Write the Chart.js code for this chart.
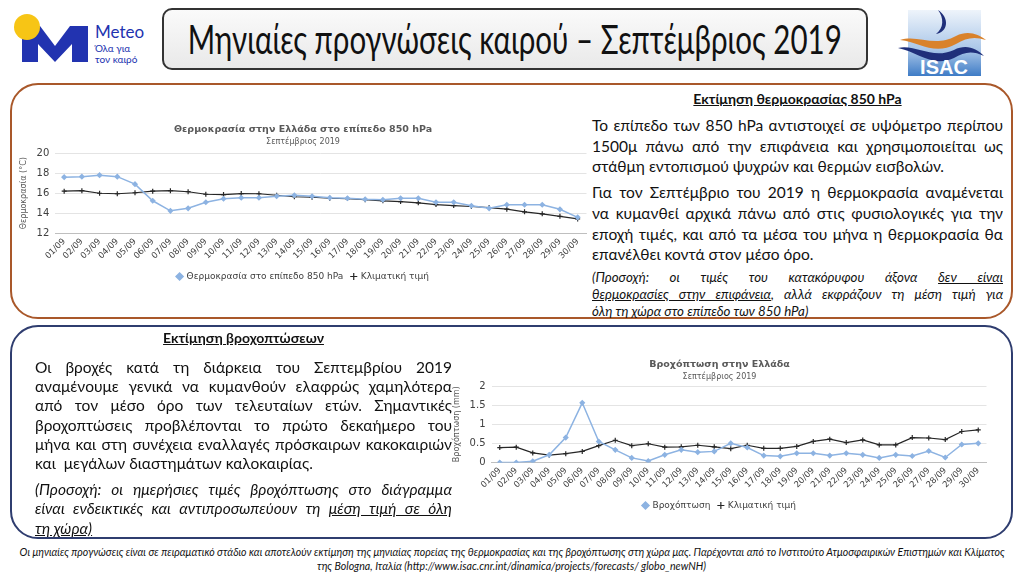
<!DOCTYPE html>
<html>
<head>
<meta charset="utf-8">
<script src="https://cdn.jsdelivr.net/npm/chart.js@4.4.1/dist/chart.umd.min.js"></script>
<style>
  body { margin: 0; width: 1024px; height: 576px; background: #fff; position: relative; overflow: hidden; font-family: Lato, "Open Sans", sans-serif; }
  .abs { position: absolute; }
  .panel { position: absolute; border-radius: 28px; box-sizing: border-box; }
  .txt { position: absolute; color: #111; }
  .txt div { white-space: nowrap; }
  .j { text-align: justify; text-align-last: justify; }
  .head { font-weight: bold; text-decoration: underline; text-align: center; }
  .it { font-style: italic; }
  .fit { display: inline-block; white-space: nowrap; transform-origin: center center; }
</style>
</head>
<body>

<!-- Meteo logo -->
<svg class="abs" style="left:10px;top:10px" width="150" height="62">
  <polygon points="12,16 30,16 45,36 60,16 78,16 78,52 62,52 62,34 45,52 28,34 28,52 12,52" fill="#2233b0"/>
  <circle cx="17" cy="17" r="13" fill="#f7c515"/>
  <text x="85" y="28" font-family="Lato, Open Sans" font-size="17" fill="#2233b0">Meteo</text>
  <text x="85" y="42" font-family="Lato, Open Sans" font-size="10" fill="#2233b0">Όλα για</text>
  <text x="85" y="53" font-family="Lato, Open Sans" font-size="10" fill="#2233b0">τον καιρό</text>
</svg>

<!-- title box -->
<div class="abs" style="left:162px;top:8px;width:706px;height:62px;box-sizing:border-box;border:2px solid #333;border-radius:10px;background:linear-gradient(#fafafa,#e9e9e9);display:flex;align-items:center;justify-content:center;overflow:hidden;">
  <span class="fit" data-w="654" style="font-family:Lato,sans-serif;font-weight:400;font-size:40px;line-height:44px;color:#111;">Μηνιαίες προγνώσεις καιρού – Σεπτέμβριος 2019</span>
</div>

<!-- ISAC logo -->
<svg class="abs" style="left:898px;top:4px" width="90" height="74">
  <defs>
    <linearGradient id="g" x1="0" y1="0" x2="0" y2="1">
      <stop offset="0" stop-color="#eef4fb"/>
      <stop offset="0.6" stop-color="#a9c6e8"/>
      <stop offset="1" stop-color="#3f7cc6"/>
    </linearGradient>
  </defs>
  <rect x="10" y="6" width="73" height="66" fill="url(#g)"/>
  <path d="M40 6 C52 14 50 28 38 30 C46 24 46 14 40 6 Z" fill="#1f2f7a"/>
  <path d="M2 36 C20 30 36 44 58 32 C70 26 80 30 88 36 C76 32 68 34 58 40 C36 52 22 38 2 36 Z" fill="#d9822b"/>
  <path d="M0 44 C18 40 34 56 56 46 C68 40 78 44 86 52 C74 46 66 48 56 54 C34 64 20 48 0 44 Z" fill="#1f2f7a"/>
  <text x="46" y="70" text-anchor="middle" font-family="Liberation Sans, sans-serif" font-weight="bold" font-size="20" fill="#fff">ISAC</text>
</svg>

<!-- panels -->
<div class="panel" style="left:10px;top:83px;width:1003px;height:236px;border:2px solid #a9582a;background:#fff;"></div>
<div class="panel" style="left:10px;top:325px;width:1003px;height:214px;border:2px solid #2f3d6f;background:#fff;"></div>

<!-- charts -->
<div class="abs" style="left:15px;top:120px;width:577px;height:171px;"><canvas id="tempChart"></canvas></div>
<div class="abs" style="left:448px;top:355px;width:544px;height:165px;"><canvas id="rainChart"></canvas></div>

<!-- top right text -->
<div class="txt" style="left:592px;top:89px;width:411px;font-size:15.5px;line-height:20.7px;">
  <div class="head" style="font-size:14px;line-height:20px;margin-bottom:6px;">Εκτίμηση θερμοκρασίας 850 hPa</div>
  <div class="j">Το επίπεδο των 850 hPa αντιστοιχεί σε υψόμετρο περίπου</div>
  <div class="j">1500μ πάνω από την επιφάνεια και χρησιμοποιείται ως</div>
  <div>στάθμη εντοπισμού ψυχρών και θερμών εισβολών.</div>
  <div style="height:5px"></div>
  <div class="j">Για τον Σεπτέμβριο του 2019 η θερμοκρασία αναμένεται</div>
  <div class="j">να κυμανθεί αρχικά πάνω από στις φυσιολογικές για την</div>
  <div class="j">εποχή τιμές, και από τα μέσα του μήνα η θερμοκρασία θα</div>
  <div>επανέλθει κοντά στον μέσο όρο.</div>
  <div class="it" style="font-size:13.3px;line-height:17px;margin-top:4px;">
    <div class="j">(Προσοχή: οι τιμές του κατακόρυφου άξονα <u>δεν είναι</u></div>
    <div class="j"><u>θερμοκρασίες στην επιφάνεια</u>, αλλά εκφράζουν τη μέση τιμή για</div>
    <div>όλη τη χώρα στο επίπεδο των 850 hPa)</div>
  </div>
</div>

<!-- bottom left text -->
<div class="txt" style="left:35px;top:328px;width:417px;font-size:15.5px;line-height:19.2px;">
  <div class="head" style="font-size:14px;line-height:20px;margin-bottom:10px;">Εκτίμηση βροχοπτώσεων</div>
  <div class="j">Οι βροχές κατά τη διάρκεια του Σεπτεμβρίου 2019</div>
  <div class="j">αναμένουμε γενικά να κυμανθούν ελαφρώς χαμηλότερα</div>
  <div class="j">από τον μέσο όρο των τελευταίων ετών. Σημαντικές</div>
  <div class="j">βροχοπτώσεις προβλέπονται το πρώτο δεκαήμερο του</div>
  <div class="j">μήνα και στη συνέχεια εναλλαγές πρόσκαιρων κακοκαιριών</div>
  <div>και &nbsp;μεγάλων διαστημάτων καλοκαιρίας.</div>
  <div class="it" style="margin-top:7px;">
    <div class="j">(Προσοχή: οι ημερήσιες τιμές βροχόπτωσης στο διάγραμμα</div>
    <div class="j">είναι ενδεικτικές και αντιπροσωπεύουν τη <u>μέση τιμή σε όλη</u></div>
    <div><u>τη χώρα)</u></div>
  </div>
</div>

<!-- footer -->
<div class="abs" style="left:0;top:545px;width:1024px;text-align:center;font-style:italic;font-size:10.5px;line-height:14px;color:#111;">
  <div><span class="fit" data-w="985">Οι μηνιαίες προγνώσεις είναι σε πειραματικό στάδιο και αποτελούν εκτίμηση της μηνιαίας πορείας της θερμοκρασίας και της βροχόπτωσης στη χώρα μας. Παρέχονται από το Ινστιτούτο Ατμοσφαιρικών Επιστημών και Κλίματος</span></div>
  <div><span class="fit" data-w="389">της Bologna, Ιταλία (http://www.isac.cnr.int/dinamica/projects/forecasts/ globo_newNH)</span></div>
</div>

<script>
// days of September
const days = ['01/09', '02/09', '03/09', '04/09', '05/09', '06/09', '07/09', '08/09', '09/09', '10/09',
              '11/09', '12/09', '13/09', '14/09', '15/09', '16/09', '17/09', '18/09', '19/09', '20/09',
              '21/09', '22/09', '23/09', '24/09', '25/09', '26/09', '27/09', '28/09', '29/09', '30/09'];

// temperature 850 hPa (°C)
const temp850 = [17.6, 17.65, 17.8, 17.65, 16.9, 15.25, 14.25, 14.5, 15.1, 15.45,
                 15.55, 15.55, 15.7, 15.8, 15.7, 15.55, 15.5, 15.4, 15.35, 15.5,
                 15.5, 15.1, 15.1, 14.75, 14.5, 14.85, 14.85, 14.85, 14.4, 13.6];
const tempClim = [16.2, 16.25, 16.0, 15.95, 16.05, 16.2, 16.25, 16.15, 15.9, 15.87,
                  15.97, 15.95, 15.8, 15.65, 15.6, 15.5, 15.47, 15.35, 15.25, 15.17,
                  15.05, 14.87, 14.77, 14.68, 14.57, 14.42, 14.15, 13.95, 13.7, 13.45];
const tempTicks = [12, 14, 16, 18, 20];

// rainfall (mm)
const rain = [0, 0, 0.03, 0.2, 0.65, 1.56, 0.55, 0.33, 0.12, 0.04,
              0.2, 0.33, 0.27, 0.29, 0.5, 0.39, 0.18, 0.16, 0.24, 0.24,
              0.18, 0.24, 0.2, 0.12, 0.2, 0.17, 0.3, 0.13, 0.47, 0.5];
const rainClim = [0.39, 0.4, 0.25, 0.19, 0.23, 0.29, 0.44, 0.58, 0.44, 0.49,
                  0.4, 0.41, 0.45, 0.41, 0.36, 0.45, 0.37, 0.37, 0.42, 0.55,
                  0.61, 0.52, 0.59, 0.46, 0.46, 0.65, 0.64, 0.6, 0.81, 0.85];
const rainTicks = [0, 0.5, 1, 1.5, 2];

// squeeze condensed texts to the widths of the original
document.querySelectorAll('.fit').forEach(function(el) {
    const w = el.getBoundingClientRect().width;
    el.style.transform = 'scaleX(' + (parseFloat(el.dataset.w) / w) + ')';
});

Chart.defaults.font.family = 'DejaVu Sans';
Chart.defaults.color = '#404040';
Chart.defaults.animation = false;

function lineChart(id, title, yTitle, names, values, clim, ticks, subPad) {
    new Chart(document.getElementById(id).getContext('2d'), {
        type: 'line',
        data: {
            labels: days,
            datasets: [
                {
                    label: names[0],
                    data: values,
                    borderColor: '#8db3e2',
                    backgroundColor: '#8db3e2',
                    borderWidth: 1.5,
                    pointStyle: 'rectRot',
                    pointRadius: 2,
                    tension: 0
                },
                {
                    label: names[1],
                    data: clim,
                    borderColor: '#262626',
                    backgroundColor: '#262626',
                    borderWidth: 1.2,
                    pointStyle: 'cross',
                    pointRadius: 2.5,
                    tension: 0
                }
            ]
        },
        options: {
            responsive: true,
            maintainAspectRatio: false,
            layout: { padding: { left: 2, right: 3, top: 0, bottom: 0 } },
            scales: {
                y: {
                    min: ticks[0],
                    max: ticks[ticks.length - 1],
                    ticks: {
                        stepSize: ticks[1] - ticks[0],
                        callback: function(v) { return String(v); },
                        font: { size: 10 }, color: '#404040', padding: 6
                    },
                    grid: { color: '#e4e4e4', drawTicks: false },
                    border: { display: false },
                    title: { display: true, text: yTitle, font: { size: 8 }, color: '#595959', padding: 2 }
                },
                x: {
                    offset: true,
                    ticks: { minRotation: 45, maxRotation: 45, autoSkip: false, font: { size: 8.5 }, color: '#404040', padding: 3 },
                    grid: { display: false, drawTicks: false },
                    border: { color: '#bfbfbf' }
                }
            },
            plugins: {
                title: { display: true, text: title, font: { size: 9.5, weight: 'bold' }, color: '#595959', padding: { top: 4, bottom: 2 } },
                subtitle: { display: true, text: 'Σεπτέμβριος 2019', font: { size: 8 }, color: '#595959', padding: { bottom: subPad } },
                legend: {
                    display: true,
                    position: 'bottom',
                    labels: { usePointStyle: true, boxWidth: 5, boxHeight: 5, padding: 8, font: { size: 9 }, color: '#404040' }
                }
            }
        }
    });
}

lineChart('tempChart', 'Θερμοκρασία στην Ελλάδα στο επίπεδο 850 hPa', 'Θερμοκρασία (°C)',
          ['Θερμοκρασία στο επίπεδο 850 hPa', 'Κλιματική τιμή'], temp850, tempClim, tempTicks, 6);
lineChart('rainChart', 'Βροχόπτωση στην Ελλάδα', 'Βροχόπτωση (mm)',
          ['Βροχόπτωση', 'Κλιματική τιμή'], rain, rainClim, rainTicks, 4);
</script>
</body>
</html>
